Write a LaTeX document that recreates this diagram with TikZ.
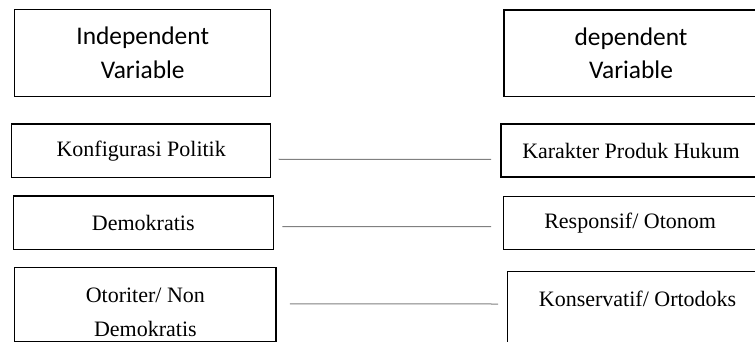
\documentclass[tikz,border=0pt]{standalone}
\usepackage{fontspec}
\setmainfont{Liberation Serif}
\newfontfamily\calibri{Carlito}
\begin{document}
\begin{tikzpicture}[x=1pt,y=-1pt,
      every node/.style={draw,line width=1.3pt,inner sep=0pt,align=center},
      head/.style={font=\calibri\fontsize{25.4}{33.6}\selectfont},
      item/.style={font=\fontsize{22}{34.5}\selectfont},
      link/.style={draw=black!50,line width=1pt}]
      \useasboundingbox (0,0) rectangle (755,342);
      % header boxes
      \node[head,minimum width=256pt,minimum height=87.4pt] (indep) at (142.7,53) {Independent\\Variable};
      \node[head,minimum width=254pt,minimum height=86.7pt] (dep) at (631,53.35) {dependent\\Variable};
      % left column
      \node[item,minimum width=259pt,minimum height=53.3pt] (konf) at (141.2,150.65) {Konfigurasi Politik};
      \node[item,minimum width=260pt,minimum height=53.3pt] (demo) at (143.3,222.65) {Demokratis};
      \node[item,minimum width=261.3pt,text height=69.3pt,text depth=4.7pt,anchor=north] (otor) at (145.35,266.7) {Otoriter/ Non\\Demokratis};
      % right column
      \node[item,minimum width=260pt,minimum height=53pt] (kar) at (631,150.5) {Karakter Produk Hukum};
      \node[item,minimum width=253.7pt,minimum height=52.6pt] (resp) at (630.15,223) {Responsif/ Otonom};
      \node[item,minimum width=260.7pt,text height=35pt,text depth=44.3pt,anchor=north] (kons) at (637.6,270.7) {Konservatif/ Ortodoks};
      % connectors
      \draw[link] ([xshift=7.3pt,yshift=-8.6pt]konf.east) -- ([xshift=-9.3pt,yshift=-8.8pt]kar.west);
      \draw[link] ([xshift=8.4pt,yshift=-4pt]demo.east) -- ([xshift=-11.6pt,yshift=-3.7pt]resp.west);
      \draw[link] ([xshift=13.3pt,yshift=0.4pt]otor.east) -- ([xshift=-8.6pt,yshift=7pt]kons.west);
\end{tikzpicture}
\end{document}
